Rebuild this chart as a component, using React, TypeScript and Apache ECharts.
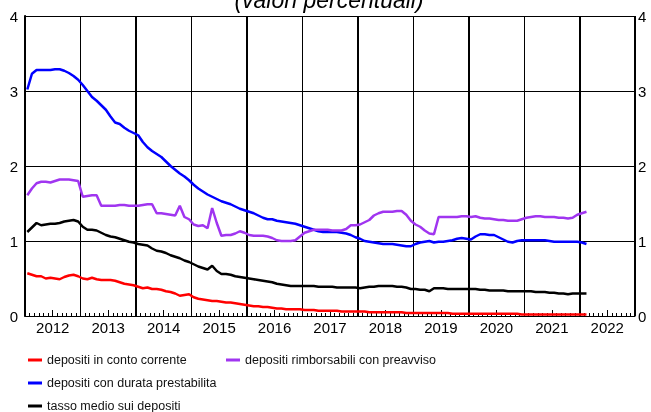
import React, { useEffect, useRef } from "react";
import * as echarts from "echarts";

const years = [2012, 2013, 2014, 2015, 2016, 2017, 2018, 2019, 2020, 2021, 2022];
const monthNames = ["gen", "feb", "mar", "apr", "mag", "giu", "lug", "ago", "set", "ott", "nov", "dic"];

const seriesNames = [
  "depositi in conto corrente",
  "depositi con durata prestabilita",
  "tasso medio sui depositi",
  "depositi rimborsabili con preavviso",
];

const contoCorrente = [
  0.57, 0.55, 0.53, 0.53, 0.50, 0.51, 0.50, 0.49, 0.52, 0.54, 0.55, 0.53,
  0.50, 0.49, 0.51, 0.49, 0.48, 0.48, 0.48, 0.47, 0.45, 0.43, 0.42, 0.41,
  0.39, 0.37, 0.38, 0.36, 0.36, 0.35, 0.33, 0.32, 0.30, 0.27, 0.28, 0.29,
  0.25, 0.23, 0.22, 0.21, 0.20, 0.20, 0.19, 0.18, 0.18, 0.17, 0.16, 0.15,
  0.14, 0.13, 0.13, 0.12, 0.12, 0.11, 0.10, 0.10, 0.09, 0.09, 0.09, 0.09,
  0.08, 0.08, 0.08, 0.07, 0.07, 0.07, 0.07, 0.07, 0.06, 0.06, 0.06, 0.06,
  0.06, 0.06, 0.05, 0.05, 0.05, 0.05, 0.05, 0.05, 0.05, 0.05, 0.04, 0.04,
  0.04, 0.04, 0.04, 0.04, 0.04, 0.04, 0.04, 0.04, 0.03, 0.03, 0.03, 0.03,
  0.03, 0.03, 0.03, 0.03, 0.03, 0.03, 0.03, 0.03, 0.03, 0.03, 0.03, 0.02,
  0.02, 0.02, 0.02, 0.02, 0.02, 0.02, 0.02, 0.02, 0.02, 0.02, 0.02, 0.02,
  0.02, 0.02,
];

const durataPrestabilita = [
  3.02, 3.23, 3.28, 3.28, 3.28, 3.28, 3.29, 3.29, 3.27, 3.24, 3.20, 3.15,
  3.08, 3.00, 2.92, 2.87, 2.81, 2.75, 2.66, 2.58, 2.56, 2.51, 2.47, 2.44,
  2.41, 2.32, 2.25, 2.20, 2.16, 2.12, 2.06, 2.00, 1.95, 1.90, 1.86, 1.81,
  1.75, 1.70, 1.66, 1.62, 1.59, 1.56, 1.53, 1.51, 1.49, 1.46, 1.43, 1.41,
  1.39, 1.37, 1.34, 1.31, 1.29, 1.29, 1.27, 1.26, 1.25, 1.24, 1.23, 1.21,
  1.19, 1.17, 1.15, 1.13, 1.12, 1.12, 1.12, 1.12, 1.11, 1.10, 1.08, 1.05,
  1.03, 1.00, 0.99, 0.98, 0.97, 0.96, 0.96, 0.96, 0.95, 0.94, 0.93, 0.93,
  0.96, 0.98, 0.99, 1.00, 0.98, 0.99, 0.99, 1.00, 1.01, 1.03, 1.04, 1.03,
  1.02, 1.06, 1.09, 1.09, 1.08, 1.08, 1.05, 1.02, 0.99, 0.98, 1.00, 1.01,
  1.01, 1.01, 1.01, 1.01, 1.01, 1.00, 0.99, 0.99, 0.99, 0.99, 0.99, 0.99,
  0.98, 0.96,
];

const tassoMedio = [
  1.12, 1.18, 1.24, 1.21, 1.22, 1.23, 1.23, 1.24, 1.26, 1.27, 1.28, 1.26,
  1.19, 1.15, 1.15, 1.14, 1.11, 1.08, 1.06, 1.05, 1.03, 1.01, 0.99, 0.98,
  0.96, 0.95, 0.94, 0.90, 0.87, 0.86, 0.84, 0.81, 0.79, 0.77, 0.74, 0.72,
  0.69, 0.66, 0.64, 0.62, 0.67, 0.60, 0.56, 0.56, 0.55, 0.53, 0.52, 0.51,
  0.50, 0.49, 0.48, 0.47, 0.46, 0.45, 0.43, 0.42, 0.41, 0.40, 0.40, 0.40,
  0.40, 0.40, 0.40, 0.39, 0.39, 0.39, 0.39, 0.38, 0.38, 0.38, 0.38, 0.38,
  0.37, 0.38, 0.39, 0.39, 0.40, 0.40, 0.40, 0.40, 0.39, 0.39, 0.38, 0.36,
  0.36, 0.35, 0.35, 0.33, 0.37, 0.37, 0.37, 0.36, 0.36, 0.36, 0.36, 0.36,
  0.36, 0.36, 0.35, 0.35, 0.34, 0.34, 0.34, 0.34, 0.33, 0.33, 0.33, 0.33,
  0.33, 0.33, 0.32, 0.32, 0.32, 0.31, 0.31, 0.30, 0.30, 0.29, 0.30, 0.30,
  0.30, 0.30,
];

const rimborsabili = [
  1.61, 1.70, 1.77, 1.79, 1.79, 1.78, 1.80, 1.82, 1.82, 1.82, 1.81, 1.80,
  1.59, 1.60, 1.61, 1.61, 1.47, 1.47, 1.47, 1.47, 1.48, 1.48, 1.47, 1.47,
  1.47, 1.48, 1.49, 1.49, 1.37, 1.37, 1.36, 1.35, 1.34, 1.47, 1.32, 1.29,
  1.22, 1.20, 1.21, 1.17, 1.44, 1.24, 1.07, 1.08, 1.08, 1.10, 1.13, 1.11,
  1.08, 1.07, 1.07, 1.07, 1.06, 1.04, 1.01, 1.00, 1.00, 1.00, 1.01, 1.06,
  1.11, 1.13, 1.15, 1.15, 1.15, 1.15, 1.14, 1.14, 1.14, 1.16, 1.21, 1.21,
  1.22, 1.25, 1.28, 1.34, 1.37, 1.39, 1.39, 1.39, 1.40, 1.40, 1.35, 1.27,
  1.22, 1.19, 1.14, 1.10, 1.09, 1.32, 1.32, 1.32, 1.32, 1.32, 1.33, 1.33,
  1.32, 1.33, 1.31, 1.30, 1.30, 1.29, 1.28, 1.28, 1.27, 1.27, 1.27, 1.29,
  1.31, 1.32, 1.33, 1.33, 1.32, 1.32, 1.32, 1.31, 1.31, 1.30, 1.31, 1.35,
  1.37, 1.39,
];

const yTicks = [0, 1, 2, 3, 4];
const titleText = "(valori percentuali)";

const FONT = "'Liberation Sans', Arial, Helvetica, sans-serif";

export default function App() {
  const ref = useRef<HTMLDivElement>(null);

  useEffect(() => {
    if (!ref.current) return;
    const chart = echarts.init(ref.current, undefined, { renderer: "svg" });

    const months: string[] = [];
    years.forEach((y) => monthNames.forEach((m) => months.push(`${m} ${y}`)));
    const nMonths = months.length;
    const firstYear = years[0];

    const colors = ["#ff0000", "#0000ff", "#000000", "#a035f0"];
    const datas = [contoCorrente, durataPrestabilita, tassoMedio, rimborsabili];

    const legendBase = {
      orient: "vertical",
      top: 353,
      height: 90,
      padding: 0,
      itemGap: 9,
      itemWidth: 14,
      itemHeight: 3,
      itemTextGap: 8,
      icon: "rect",
      textStyle: { fontSize: 12.5, color: "#111", fontFamily: FONT, lineHeight: 14 },
    };

    const option: any = {
      animation: false,
      textStyle: { fontFamily: FONT },
      graphic: [
        {
          type: "text",
          x: 329,
          y: 0,
          style: {
            text: titleText,
            fontFamily: FONT,
            fontSize: 23,
            fontStyle: "italic",
            fill: "#000",
            textAlign: "center",
            textVerticalAlign: "middle",
          },
        },
      ],
      grid: { left: 25, right: 16, top: 16, bottom: 96, containLabel: false },
      legend: [
        { ...legendBase, data: [seriesNames[0], seriesNames[1], seriesNames[2]], left: 28 },
        { ...legendBase, data: [seriesNames[3]], left: 226 },
      ],
      xAxis: [
        {
          type: "category",
          data: months,
          boundaryGap: true,
          position: "bottom",
          axisLine: { show: true, lineStyle: { color: "#000", width: 1 } },
          axisTick: { show: true, interval: 0, inside: true, length: 3, lineStyle: { color: "#000", width: 1 } },
          axisLabel: { show: false },
          splitLine: { show: false },
        },
        {
          type: "value",
          min: 0,
          max: nMonths,
          interval: 6,
          position: "bottom",
          axisLine: { show: false },
          axisTick: { show: true, inside: true, length: 6, lineStyle: { color: "#000", width: 1 } },
          axisLabel: {
            show: true,
            margin: 4,
            fontSize: 15,
            color: "#000",
            fontFamily: FONT,
            formatter: (v: number) => (v % 12 === 6 ? String(firstYear + (v - 6) / 12) : ""),
          },
          splitLine: { show: false },
        },
        {
          type: "value",
          min: 0,
          max: nMonths,
          interval: 12,
          position: "bottom",
          axisLine: { show: false },
          axisTick: { show: false },
          axisLabel: { show: false },
          splitLine: { show: true, lineStyle: { color: "#000", width: 1 } },
        },
        {
          type: "value",
          min: 0,
          max: nMonths,
          interval: 24,
          position: "bottom",
          axisLine: { show: false },
          axisTick: { show: false },
          axisLabel: { show: false },
          splitLine: { show: true, lineStyle: { color: "#000", width: 2 } },
        },
      ],
      yAxis: [
        {
          type: "value",
          min: yTicks[0],
          max: yTicks[yTicks.length - 1],
          interval: 1,
          position: "left",
          axisLine: { show: true, lineStyle: { color: "#000", width: 2 } },
          axisTick: { show: false },
          axisLabel: { margin: 7, fontSize: 15, color: "#000", fontFamily: FONT },
          splitLine: { show: true, lineStyle: { color: "#000", width: 1 } },
        },
        {
          type: "value",
          min: yTicks[0],
          max: yTicks[yTicks.length - 1],
          interval: 1,
          position: "right",
          axisLine: { show: true, lineStyle: { color: "#000", width: 1 } },
          axisTick: { show: false },
          axisLabel: { margin: 3, fontSize: 15, color: "#000", fontFamily: FONT },
          splitLine: { show: false },
        },
      ],
      series: datas.map((d, k) => ({
        name: seriesNames[k],
        type: "line",
        xAxisIndex: 0,
        yAxisIndex: 0,
        data: d,
        showSymbol: false,
        symbol: "none",
        color: colors[k],
        lineStyle: { color: colors[k], width: 2.5 },
        z: 3,
      })),
    };

    chart.setOption(option);
    return () => chart.dispose();
  }, []);

  return (
    <div
      ref={ref}
      style={{ position: "fixed", left: 0, top: 0, width: 651, height: 412 }}
    />
  );
}
